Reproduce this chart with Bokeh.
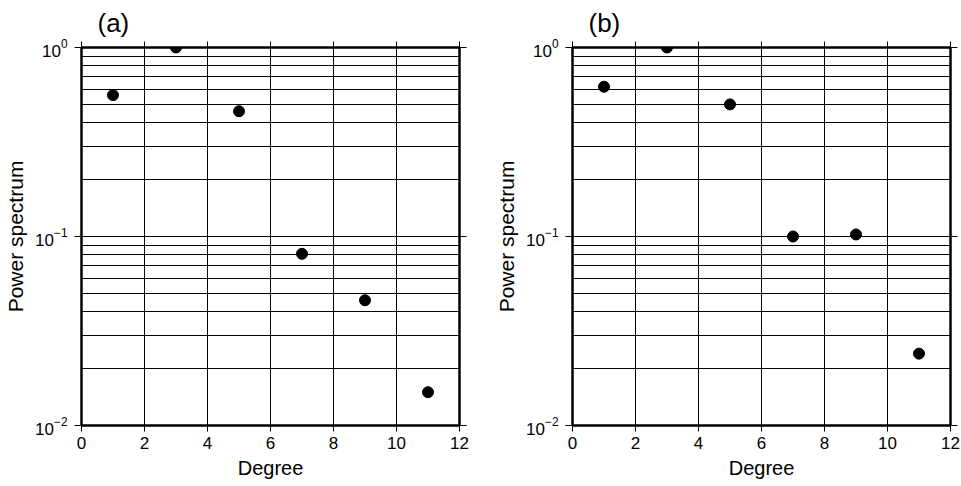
from bokeh.plotting import figure
from bokeh.layouts import row
from bokeh.models import (Range1d, FixedTicker, LinearAxis, LogTickFormatter,
                          CustomJSTickFormatter)
from bokeh.embed import file_html
from bokeh.resources import INLINE

degrees = [1, 3, 5, 7, 9, 11]
power_a = [0.56, 1.0, 0.46, 0.081, 0.046, 0.015]
power_b = [0.62, 1.0, 0.50, 0.10, 0.1025, 0.024]
panel_titles = ["(a)", "(b)"]
x_ticks = [0, 2, 4, 6, 8, 10, 12]
y_ticks = [0.01, 0.1, 1.0]
y_minor = [m * d for d in (0.01, 0.1) for m in range(2, 10)]

FONT = "Liberation Sans"


def make_panel(title, ys, width, left, right):
    p = figure(width=width, height=486, x_range=Range1d(0, 12), y_range=Range1d(0.01, 1),
               y_axis_type="log", output_backend="svg", toolbar_location=None,
               min_border_left=left, min_border_right=right, min_border_top=47,
               min_border_bottom=61)
    p.title.text = title
    p.title.text_font = FONT
    p.title.text_font_size = "26px"
    p.title.text_font_style = "normal"
    p.title.text_color = "black"
    p.title.offset = 16
    p.title.standoff = 8

    p.background_fill_color = "white"
    p.border_fill_color = "white"
    p.outline_line_color = "black"
    p.outline_line_width = 2

    xt = FixedTicker(ticks=x_ticks)
    yt = FixedTicker(ticks=y_ticks, minor_ticks=y_minor)

    p.xaxis.ticker = xt
    p.yaxis.ticker = yt
    p.yaxis.formatter = LogTickFormatter()

    p.xgrid.ticker = xt
    p.ygrid.ticker = yt
    for g in (p.xgrid, p.ygrid):
        g.grid_line_color = "black"
        g.grid_line_width = 1
        g.grid_line_alpha = 1
    p.ygrid.minor_grid_line_color = "black"
    p.ygrid.minor_grid_line_width = 1

    p.xaxis.axis_label = "Degree"
    p.yaxis.axis_label = "Power spectrum"
    for ax in (p.xaxis[0], p.yaxis[0]):
        ax.axis_label_text_font = FONT
        ax.axis_label_text_font_style = "normal"
        ax.axis_label_text_color = "black"
        ax.major_label_text_font = FONT
        ax.major_label_text_font_size = "17px"
        ax.major_label_text_color = "black"
        ax.axis_line_color = "black"
        ax.axis_line_width = 2
        ax.major_tick_line_color = "black"
        ax.major_tick_out = 6
        ax.major_tick_in = 0
        ax.minor_tick_line_color = None
    p.xaxis.major_label_standoff = 5
    p.yaxis.major_label_standoff = 7
    p.xaxis.axis_label_text_font_size = "20px"
    p.yaxis.axis_label_text_font_size = "21px"
    p.xaxis.axis_label_standoff = 5
    p.yaxis.axis_label_standoff = 5
    p.yaxis.major_tick_out = 7

    blank = CustomJSTickFormatter(code="return '';")
    top = LinearAxis(ticker=xt, formatter=blank, major_tick_out=6,
                     major_tick_in=0, minor_tick_line_color=None, axis_line_color="black",
                     axis_line_width=2, major_label_standoff=0,
                     major_label_text_font_size="1px")
    rgt = LinearAxis(ticker=yt, formatter=blank, major_tick_out=7,
                     major_tick_in=0, minor_tick_line_color=None, axis_line_color="black",
                     axis_line_width=2, major_label_standoff=0,
                     major_label_text_font_size="1px")
    p.add_layout(top, "above")
    p.add_layout(rgt, "right")

    p.scatter(degrees, ys, size=11, fill_color="black", line_color="black")
    return p


p1 = make_panel(panel_titles[0], power_a, 491, 81, 32)
p2 = make_panel(panel_titles[1], power_b, 470, 81, 11)
layout = row(p1, p2)

open("out.html", "w").write(file_html(layout, INLINE))
